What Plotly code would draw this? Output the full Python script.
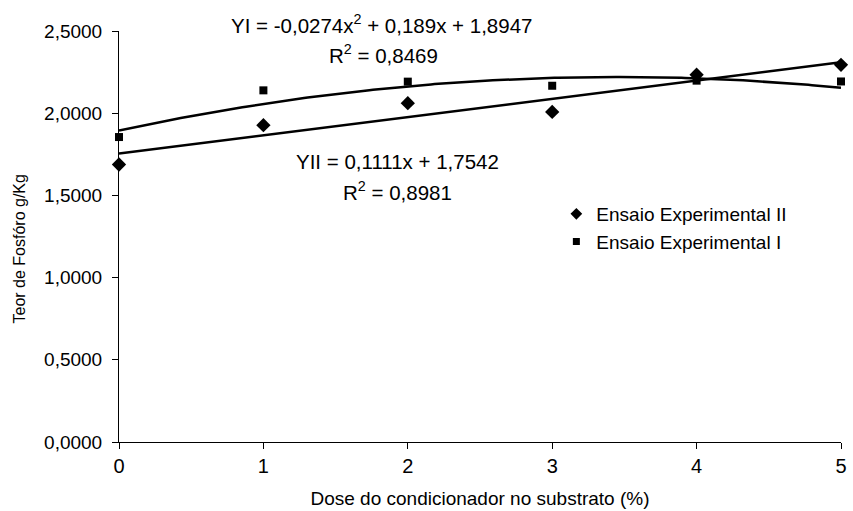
import numpy as np
import plotly.graph_objects as go

# Data
doses = [0, 1, 2, 3, 4, 5]
ensaio_II = [1.688, 1.927, 2.061, 2.008, 2.234, 2.294]
ensaio_I = [1.855, 2.139, 2.192, 2.167, 2.198, 2.193]

# Trendline coefficients as printed on the chart (highest power first)
coef_I = [-0.0274, 0.189, 1.8947]
coef_II = [0.1111, 1.7542]

x_ticks = [0, 1, 2, 3, 4, 5]
y_ticks = [0, 0.5, 1.0, 1.5, 2.0, 2.5]

series_names = ["Ensaio Experimental II", "Ensaio Experimental I"]

FONT = "Liberation Sans, Arial, sans-serif"

W, H = 853, 511
L, R, T, B = 119, 6, 31, 66.5
pw, ph = W - L - R, H - T - B


def px_to_paper(px, py):
    return (px - L) / pw, (H - B - py) / ph


xs = np.linspace(min(doses), max(doses), 200)

fig = go.Figure()
fig.add_trace(go.Scatter(
    x=doses, y=ensaio_II, mode="markers", name=series_names[0], showlegend=False,
    marker=dict(symbol="diamond", size=11, color="black"), cliponaxis=False))
fig.add_trace(go.Scatter(
    x=doses, y=ensaio_I, mode="markers", name=series_names[1], showlegend=False,
    marker=dict(symbol="square", size=8, color="black"), cliponaxis=False))
fig.add_trace(go.Scatter(
    x=xs, y=np.polyval(coef_I, xs), mode="lines", showlegend=False,
    line=dict(color="black", width=2.5), cliponaxis=False, hoverinfo="skip"))
fig.add_trace(go.Scatter(
    x=xs, y=np.polyval(coef_II, xs), mode="lines", showlegend=False,
    line=dict(color="black", width=2.5), cliponaxis=False, hoverinfo="skip"))
# legend entries (smaller symbols as in the reference)
fig.add_trace(go.Scatter(
    x=[None], y=[None], mode="markers", name=series_names[0],
    marker=dict(symbol="diamond", size=9, color="black")))
fig.add_trace(go.Scatter(
    x=[None], y=[None], mode="markers", name=series_names[1],
    marker=dict(symbol="square", size=7, color="black")))

ann_font = dict(family=FONT, size=20.5, color="black")
texts = [
    (384, 24, "YI = -0,0274x<sup>2</sup> + 0,189x + 1,8947", ann_font, 0),
    (386, 54, "R<sup>2</sup> = 0,8469", ann_font, 0),
    (400, 162, "YII = 0,1111x + 1,7542", ann_font, 0),
    (400, 192, "R<sup>2</sup> = 0,8981", ann_font, 0),
    (19, 250, "Teor de Fosfóro g/Kg", dict(family=FONT, size=16, color="black"), -90),
]
for px, py, txt, f, ang in texts:
    ax, ay = px_to_paper(px, py)
    fig.add_annotation(x=ax, y=ay, xref="paper", yref="paper", text=txt, showarrow=False,
                       font=f, textangle=ang, xanchor="center", yanchor="middle")

lx, ly = px_to_paper(560, 196)
fig.update_layout(
    width=W, height=H,
    margin=dict(l=L, r=R, t=T, b=B),
    paper_bgcolor="white", plot_bgcolor="white",
    separators=",.",
    font=dict(family=FONT, size=19, color="black"),
    showlegend=True,
    legend=dict(x=lx, y=ly, xanchor="left", yanchor="top",
                font=dict(family=FONT, size=19, color="black"),
                bgcolor="rgba(0,0,0,0)", itemwidth=30, tracegroupgap=0),
    xaxis=dict(range=[0, 5], tickvals=x_ticks, ticks="outside", ticklen=6, tickcolor="black",
               showline=True, linecolor="black", linewidth=1, showgrid=False, zeroline=False,
               tickfont=dict(family=FONT, size=20),
               title=dict(text="Dose do condicionador no substrato (%)", font=dict(family=FONT, size=19), standoff=15)),
    yaxis=dict(range=[0, 2.5], tickvals=y_ticks, tickformat=".4f", ticks="outside", ticklen=6,
               tickcolor="black", showline=True, linecolor="black", linewidth=1, showgrid=False,
               zeroline=False, tickfont=dict(family=FONT, size=19), ticklabelstandoff=6),
)

fig.write_html("out.html")
